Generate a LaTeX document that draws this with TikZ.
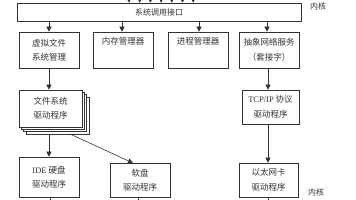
\documentclass[tikz,border=0pt]{standalone}
\usepackage{fontspec}
\setmainfont{Noto Sans CJK SC}
\newfontfamily\latinfont{Liberation Serif}
\usetikzlibrary{arrows.meta,calc}
\begin{document}
\begin{tikzpicture}[x=1pt,y=-1pt,
  line/.style={draw=black!80,line width=0.6pt},
  arr/.style={line,-{Triangle[length=5pt,width=5pt]}},
  sarr/.style={line,-{Triangle[length=2.5pt,width=2.5pt]}},
  box/.style={line,fill=white,rectangle,inner sep=0pt,align=center,font=\fontsize{8.5}{14.5}\selectfont,text=black!80},
  lbl/.style={font=\fontsize{8}{10}\selectfont,text=black!80,inner sep=0pt}]
\useasboundingbox (0,0) rectangle (356,200);
% system call bar
\node[box,minimum width=284pt,minimum height=18pt,font=\fontsize{8}{10}\selectfont] (bar) at (159,12) {系统调用接口};
\foreach \i in {0,...,6}{
  \coordinate (t\i) at (129+10.7*\i,-2);
  \draw[sarr] (t\i) -- (t\i |- bar.north);
}
\node[lbl] (k1) at (318,6) {内核};
% first row
\node[box,minimum width=60pt,minimum height=36pt] (b1) at (49,50) {虚拟文件\\系统管理};
\node[box,minimum width=60pt,minimum height=36pt] (b2) at (123,50) {内存管理器\\\strut};
\node[box,minimum width=60pt,minimum height=36pt] (b3) at (198,50) {进程管理器\\\strut};
\node[box,minimum width=60pt,minimum height=36pt] (b4) at (269,50) {抽象网络服务\\（套接字）};
\coordinate (a1) at (49,0); \coordinate (a2) at (122,0);
\coordinate (a3) at (199,0); \coordinate (a4) at (267,0);
\draw[arr] (a1 |- bar.south) -- (a1 |- b1.north);
\draw[arr] (a2 |- bar.south) -- (a2 |- b2.north);
\draw[arr] (a3 |- bar.south) -- (a3 |- b3.north);
\draw[arr] (a4 |- bar.south) -- (a4 |- b4.north);
% file system stack
\node[box,minimum width=63pt,minimum height=37pt] (fs3) at (57.5,115.4) {};
\node[box,minimum width=63pt,minimum height=37pt] (fs2) at (55.1,113.0) {};
\node[box,minimum width=63pt,minimum height=37pt] (fs1) at (52.8,110.7) {};
\node[box,minimum width=63pt,minimum height=37pt] (fs) at (50.5,108.5) {文件系统\\驱动程序};
\draw[arr] (b1.south -| a1) -- (fs.north -| a1);
% TCP/IP
\node[box,minimum width=57pt,minimum height=34pt] (tcp) at (270.5,107) {{\latinfont TCP/IP} 协议\\驱动程序};
\coordinate (n) at (268,0);
\draw[arr] (b4.south -| n) -- (tcp.north -| n);
% bottom row
\node[box,minimum width=60pt,minimum height=40pt] (ide) at (49,177) {{\latinfont IDE} 硬盘\\驱动程序};
\node[box,minimum width=60pt,minimum height=34pt] (fd) at (140,180) {软盘\\驱动程序};
\node[box,minimum width=59pt,minimum height=34pt] (eth) at (268.5,180) {以太网卡\\驱动程序};
\draw[arr] (fs3.south -| a1) -- (ide.north -| a1);
\coordinate (d0) at (70,134);
\coordinate (d1) at (133,163);
\draw[arr] (d0) -- (d1);
\draw[arr] (tcp.south -| n) -- (eth.north -| n);
% ticks below
\coordinate (e1) at (50,203); \coordinate (e2) at (138,203); \coordinate (e3) at (268,203);
\draw[line] (ide.south -| e1) -- (e1);
\draw[line] (fd.south -| e2) -- (e2);
\draw[line] (eth.south -| e3) -- (e3);
\node[lbl] (k2) at (316,192) {内核};
\end{tikzpicture}
\end{document}
